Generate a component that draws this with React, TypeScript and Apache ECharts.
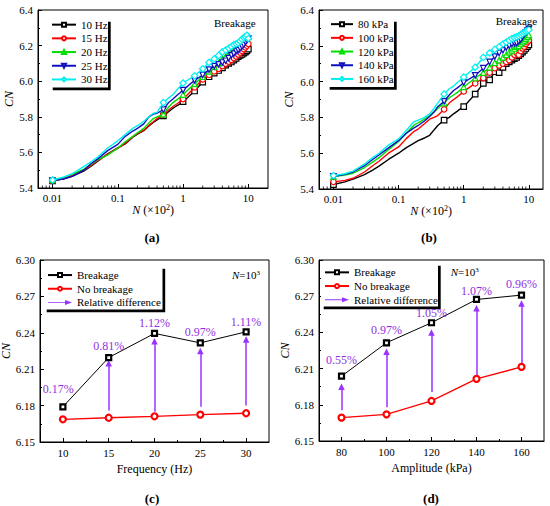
import React, { useEffect, useRef } from "react";
import * as echarts from "echarts";

// ---------- data ----------
const N_CYCLES = [0.01, 0.015, 0.02, 0.03, 0.04, 0.05, 0.07, 0.1, 0.13, 0.17, 0.2, 0.25, 0.3, 0.35, 0.4, 0.5, 0.6, 0.7, 0.8, 0.9, 1, 1.5, 2, 2.5, 3, 3.5, 4, 4.5, 5, 5.5, 6, 6.5, 7, 7.5, 8, 8.5, 9, 9.5, 10];
const MARKED_N = [0.01, 0.5, 1, 1.5, 2, 2.5, 3, 3.5, 4, 4.5, 5, 5.5, 6, 6.5, 7, 7.5, 8, 8.5, 9, 9.5, 10];
const LOG_MINOR_TICKS = [0.007, 0.008, 0.009, 0.02, 0.03, 0.04, 0.05, 0.06, 0.07, 0.08, 0.09, 0.2, 0.3, 0.4, 0.5, 0.6, 0.7, 0.8, 0.9, 2, 3, 4, 5, 6, 7, 8, 9];
const LOG_MAJOR_LABELS = [0.01, 0.1, 1, 10];
const CN_AXIS_MIN = 5.4;

const FREQ_NAMES = ["10 Hz", "15 Hz", "20 Hz", "25 Hz", "30 Hz"];
const CN_10HZ = [5.44, 5.452, 5.465, 5.495, 5.525, 5.552, 5.592, 5.625, 5.648, 5.685, 5.702, 5.722, 5.748, 5.768, 5.782, 5.805, 5.828, 5.848, 5.862, 5.872, 5.885, 5.945, 5.995, 6.025, 6.045, 6.06, 6.075, 6.09, 6.1, 6.108, 6.118, 6.128, 6.138, 6.145, 6.15, 6.158, 6.163, 6.17, 6.18];
const CN_15HZ = [5.44, 5.455, 5.47, 5.5, 5.53, 5.555, 5.59, 5.622, 5.652, 5.688, 5.705, 5.725, 5.752, 5.772, 5.79, 5.812, 5.838, 5.858, 5.872, 5.885, 5.9, 5.965, 6.01, 6.035, 6.055, 6.07, 6.085, 6.098, 6.11, 6.12, 6.13, 6.14, 6.15, 6.16, 6.17, 6.18, 6.19, 6.2, 6.21];
const CN_20HZ = [5.445, 5.46, 5.478, 5.505, 5.535, 5.56, 5.585, 5.625, 5.66, 5.69, 5.71, 5.735, 5.765, 5.79, 5.8, 5.815, 5.855, 5.88, 5.895, 5.91, 5.925, 5.985, 6.025, 6.055, 6.08, 6.1, 6.125, 6.14, 6.155, 6.165, 6.178, 6.19, 6.2, 6.21, 6.22, 6.23, 6.24, 6.245, 6.25];
const CN_25HZ = [5.44, 5.452, 5.465, 5.5, 5.54, 5.565, 5.61, 5.645, 5.69, 5.72, 5.735, 5.76, 5.8, 5.815, 5.82, 5.84, 5.88, 5.9, 5.92, 5.935, 5.95, 6.005, 6.035, 6.065, 6.085, 6.095, 6.105, 6.115, 6.13, 6.145, 6.155, 6.17, 6.175, 6.185, 6.195, 6.205, 6.22, 6.23, 6.24];
const CN_30HZ = [5.445, 5.462, 5.48, 5.52, 5.55, 5.575, 5.625, 5.665, 5.7, 5.735, 5.75, 5.775, 5.8, 5.82, 5.825, 5.88, 5.905, 5.925, 5.95, 5.97, 5.99, 6.03, 6.07, 6.105, 6.125, 6.145, 6.165, 6.175, 6.185, 6.195, 6.205, 6.21, 6.215, 6.225, 6.235, 6.245, 6.25, 6.258, 6.24];

const AMP_NAMES = ["80 kPa", "100 kPa", "120 kPa", "140 kPa", "160 kPa"];
const CN_80KPA = [5.425, 5.44, 5.455, 5.48, 5.505, 5.528, 5.565, 5.6, 5.63, 5.655, 5.67, 5.685, 5.7, 5.73, 5.755, 5.785, 5.8, 5.82, 5.835, 5.85, 5.86, 5.93, 5.99, 6.01, 6.055, 6.05, 6.08, 6.1, 6.11, 6.12, 6.128, 6.135, 6.145, 6.155, 6.165, 6.175, 6.185, 6.195, 6.205];
const CN_100KPA = [5.44, 5.448, 5.46, 5.495, 5.53, 5.555, 5.6, 5.635, 5.68, 5.72, 5.735, 5.765, 5.79, 5.8, 5.81, 5.845, 5.88, 5.9, 5.915, 5.93, 5.945, 5.99, 6.02, 6.05, 6.075, 6.09, 6.1, 6.11, 6.12, 6.135, 6.15, 6.16, 6.15, 6.17, 6.185, 6.195, 6.21, 6.22, 6.23];
const CN_120KPA = [5.47, 5.478, 5.488, 5.52, 5.55, 5.575, 5.62, 5.665, 5.71, 5.755, 5.77, 5.79, 5.81, 5.83, 5.85, 5.88, 5.91, 5.925, 5.94, 5.955, 5.97, 6.02, 6.05, 6.08, 6.105, 6.12, 6.135, 6.15, 6.165, 6.175, 6.185, 6.195, 6.2, 6.21, 6.22, 6.23, 6.24, 6.25, 6.26];
const CN_140KPA = [5.47, 5.482, 5.495, 5.53, 5.565, 5.59, 5.63, 5.67, 5.71, 5.74, 5.755, 5.78, 5.805, 5.83, 5.86, 5.89, 5.925, 5.95, 5.965, 5.98, 5.995, 6.035, 6.075, 6.11, 6.14, 6.16, 6.175, 6.19, 6.2, 6.21, 6.215, 6.215, 6.225, 6.235, 6.25, 6.265, 6.275, 6.285, 6.295];
const CN_160KPA = [5.475, 5.485, 5.5, 5.54, 5.575, 5.6, 5.645, 5.68, 5.725, 5.775, 5.785, 5.8, 5.82, 5.85, 5.88, 5.93, 5.96, 5.975, 5.995, 6.01, 6.025, 6.08, 6.135, 6.16, 6.18, 6.195, 6.21, 6.22, 6.23, 6.24, 6.245, 6.25, 6.255, 6.262, 6.268, 6.275, 6.28, 6.285, 6.29];

const FREQ = [10, 15, 20, 25, 30];
const FREQ_BREAKAGE = [6.179, 6.2196, 6.2395, 6.2317, 6.2408];
const FREQ_NO_BREAKAGE = [6.1687, 6.170, 6.1712, 6.1726, 6.1737];
const FREQ_MINOR_TICKS = [12.5, 17.5, 22.5, 27.5];
const FREQ_ARROW_X = [15, 20, 25, 30];
const FREQ_ARROW_FROM = [6.176, 6.175, 6.179, 6.18];
const FREQ_ARROW_TO = [6.215, 6.233, 6.225, 6.2345];
const FREQ_PCT_TEXT = ["0.17%", "0.81%", "1.12%", "0.97%", "1.11%"];
const FREQ_PCT_X = [9.5, 15, 20, 25, 30];
const FREQ_PCT_Y = [6.194, 6.2293, 6.2477, 6.2408, 6.249];

const AMP = [80, 100, 120, 140, 160];
const AMP_BREAKAGE = [6.2037, 6.2314, 6.248, 6.2673, 6.2709];
const AMP_NO_BREAKAGE = [6.1694, 6.1721, 6.1832, 6.2015, 6.2114];
const AMP_MINOR_TICKS = [90, 110, 130, 150];
const AMP_ARROW_X = [80, 100, 120, 140, 160];
const AMP_ARROW_FROM = [6.1755, 6.178, 6.1907, 6.2004, 6.21];
const AMP_ARROW_TO = [6.195, 6.224, 6.24, 6.26, 6.264];
const AMP_PCT_TEXT = ["0.55%", "0.97%", "1.05%", "1.07%", "0.96%"];
const AMP_PCT_X = [80, 100, 120, 140, 160];
const AMP_PCT_Y = [6.217, 6.2424, 6.2557, 6.2745, 6.28];

// ---------- styles ----------
const FONT = "'Liberation Serif', 'Times New Roman', Times, serif";
const COLORS = ["#000000", "#ff0000", "#00e000", "#1010c0", "#00f0f0"];
const SYMBOLS = ["rect", "circle", "triangle", "triangle", "diamond"];
const ROTATES = [0, 0, 0, 180, 0];
const PURPLE = "#9933ff";
const PCT_COLOR = "#9030e0";
const ARROW_ICON = "path://M0,2.1L17,2.1L17,0L24,2.5L17,5L17,2.9L0,2.9Z";

function curveSeries(name: string, ys: number[], idx: number, axis: number) {
  const color = COLORS[idx];
  return {
    type: "line",
    name,
    xAxisIndex: axis,
    yAxisIndex: axis,
    data: N_CYCLES.map((n, i) =>
      MARKED_N.indexOf(n) >= 0 ? { value: [n, ys[i]] } : { value: [n, ys[i]], symbol: "none" }
    ),
    symbol: SYMBOLS[idx],
    symbolRotate: ROTATES[idx],
    symbolSize: idx === 4 ? 6.5 : 5.5,
    showSymbol: true,
    lineStyle: { color, width: 1.4 },
    itemStyle: { color: "#ffffff", borderColor: color, borderWidth: 1.2 },
    emphasis: { disabled: true },
    z: 2 + idx,
  };
}

function minorTickSeries(axis: number) {
  return {
    type: "scatter",
    name: "minor" + axis,
    xAxisIndex: axis,
    yAxisIndex: axis,
    data: LOG_MINOR_TICKS.map((v) => [v, CN_AXIS_MIN]),
    symbol: "rect",
    symbolSize: [1, 2.5],
    symbolOffset: [0, -1.25],
    itemStyle: { color: "#000" },
    silent: true,
    clip: false,
    emphasis: { disabled: true },
    z: 20,
  };
}

function logXAxis(grid: number, max: number) {
  return {
    type: "log",
    gridIndex: grid,
    position: "bottom",
    min: 0.006,
    max,
    name: "{i|N}{t| (×10}{s|2}{t|)}",
    nameLocation: "middle",
    nameGap: 14,
    nameTextStyle: {
      fontFamily: FONT,
      fontSize: 12,
      color: "#000",
      rich: {
        i: { fontFamily: FONT, fontSize: 12, fontStyle: "italic", color: "#000" },
        t: { fontFamily: FONT, fontSize: 12, color: "#000" },
        s: { fontFamily: FONT, fontSize: 8, color: "#000", verticalAlign: "top" },
      },
    },
    axisLine: { show: true, lineStyle: { color: "#000", width: 1 } },
    axisTick: { show: true, inside: true, length: 4, lineStyle: { color: "#000" } },
    axisLabel: {
      show: true,
      margin: 4,
      fontFamily: FONT,
      fontSize: 11,
      color: "#000",
      showMinLabel: false,
      showMaxLabel: false,
      formatter: (v: number) => {
        const r = +v.toPrecision(4);
        return LOG_MAJOR_LABELS.indexOf(r) >= 0 ? String(r) : "";
      },
    },
    splitLine: { show: false },
  };
}

function valueXAxis(grid: number, min: number, max: number, values: number[] | null, name: string, minorValues: number[] | null) {
  if (minorValues) {
    return {
      type: "value",
      gridIndex: grid,
      position: "bottom",
      min,
      max,
      axisLine: { show: false },
      axisLabel: { show: false },
      splitLine: { show: false },
      axisTick: { show: true, inside: true, length: 2, customValues: minorValues, lineStyle: { color: "#000" } },
    };
  }
  return {
    type: "value",
    gridIndex: grid,
    position: "bottom",
    min,
    max,
    name,
    nameLocation: "middle",
    nameGap: 21,
    nameTextStyle: { fontFamily: FONT, fontSize: 12, color: "#000" },
    axisLine: { show: true, lineStyle: { color: "#000", width: 1 } },
    axisTick: { show: true, inside: true, length: 4, customValues: values, lineStyle: { color: "#000" } },
    axisLabel: { show: true, margin: 5, fontFamily: FONT, fontSize: 11, color: "#000", customValues: values },
    splitLine: { show: false },
  };
}

function yAxis(grid: number, min: number, max: number, interval: number, digits: number, nameGap: number) {
  return {
    type: "value",
    gridIndex: grid,
    min,
    max,
    interval,
    name: "CN",
    nameLocation: "middle",
    nameGap,
    nameTextStyle: { fontFamily: FONT, fontSize: 12, fontStyle: "italic", color: "#000" },
    axisLine: { show: true, lineStyle: { color: "#000", width: 1 } },
    axisTick: { show: true, inside: true, length: 4, lineStyle: { color: "#000" } },
    minorTick: { show: true, splitNumber: 2, length: 2, lineStyle: { color: "#000" } },
    axisLabel: {
      show: true,
      margin: 5,
      fontFamily: FONT,
      fontSize: 11,
      color: "#000",
      formatter: (v: number) => v.toFixed(digits),
    },
    splitLine: { show: false },
    minorSplitLine: { show: false },
  };
}

function legendCfg(names: any[], left: number, top: number, itemWidth: number) {
  return {
    data: names,
    orient: "vertical",
    left,
    top,
    padding: 0,
    itemGap: 0,
    itemWidth,
    itemHeight: 5,
    selectedMode: false,
    textStyle: { fontFamily: FONT, fontSize: 11, color: "#000", lineHeight: 13.7 },
    z: 10,
  };
}

function legendBox(x: number, y: number, w: number, h: number) {
  return [
    { type: "rect", shape: { x: x + 2.7, y: y + 2.7, width: w, height: h }, style: { fill: "#000" }, z: 5, silent: true },
    { type: "rect", shape: { x, y, width: w, height: h }, style: { fill: "#fff" }, z: 6, silent: true },
  ];
}

function text(x: number, y: number, t: string, opts: any = {}) {
  return {
    type: "text",
    x,
    y,
    z: 12,
    silent: true,
    style: {
      text: t,
      fontFamily: FONT,
      fontSize: opts.fontSize || 11,
      fontWeight: opts.fontWeight || "normal",
      fill: "#000",
      align: opts.align || "left",
      verticalAlign: "middle",
      textAlign: opts.align || "left",
      textVerticalAlign: "middle",
      rich: opts.rich,
    },
  };
}

const N_RICH = {
  i: { fontFamily: FONT, fontSize: 11, fontStyle: "italic", fill: "#000", color: "#000" },
  t: { fontFamily: FONT, fontSize: 11, fill: "#000", color: "#000" },
  s: { fontFamily: FONT, fontSize: 7, fill: "#000", color: "#000", verticalAlign: "top" },
};

function arrowSeries(xs: number[], from: number[], to: number[], axis: number) {
  return {
    type: "lines",
    name: "Relative difference",
    coordinateSystem: "cartesian2d",
    xAxisIndex: axis,
    yAxisIndex: axis,
    color: PURPLE,
    symbol: ["none", "triangle"],
    symbolSize: 6.5,
    lineStyle: { color: PURPLE, width: 1.5, opacity: 1, curveness: 0 },
    emphasis: { disabled: true },
    silent: true,
    data: xs.map((x, i) => ({ coords: [[x, from[i]], [x, to[i]]] })),
    z: 3,
  };
}

function pctSeries(xs: number[], ys: number[], texts: string[], axis: number) {
  return {
    type: "scatter",
    name: "pct" + axis,
    xAxisIndex: axis,
    yAxisIndex: axis,
    symbol: "circle",
    symbolSize: 2,
    itemStyle: { color: "rgba(255,255,255,0)" },
    silent: true,
    data: xs.map((x, i) => ({ value: [x, ys[i]], label: { formatter: texts[i] } })),
    label: {
      show: true,
      position: "inside",
      color: PCT_COLOR,
      opacity: 1,
      textBorderWidth: 0,
      textBorderColor: "transparent",
      fontFamily: FONT,
      fontSize: 12,
    },
    labelLayout: { hideOverlap: false },
    emphasis: { disabled: true },
    z: 6,
  };
}

function breakageSeries(xs: number[], ys: number[], axis: number) {
  return {
    type: "line",
    name: "Breakage",
    xAxisIndex: axis,
    yAxisIndex: axis,
    data: xs.map((x, i) => [x, ys[i]]),
    symbol: "rect",
    symbolSize: 5,
    lineStyle: { color: "#000", width: 1 },
    itemStyle: { color: "#fff", borderColor: "#000", borderWidth: 2.2 },
    emphasis: { disabled: true },
    z: 4,
  };
}

function noBreakageSeries(xs: number[], ys: number[], axis: number) {
  return {
    type: "line",
    name: "No breakage",
    xAxisIndex: axis,
    yAxisIndex: axis,
    data: xs.map((x, i) => [x, ys[i]]),
    symbol: "circle",
    symbolSize: 6,
    lineStyle: { color: "#ff0000", width: 1.3 },
    itemStyle: { color: "#fff", borderColor: "#ff0000", borderWidth: 2.2 },
    emphasis: { disabled: true },
    z: 4,
  };
}

function buildOption() {
  const gridBase = { show: true, borderColor: "#000", borderWidth: 1, backgroundColor: "transparent", containLabel: false, outerBoundsMode: "none" };
  const legendCD = [
    { name: "Breakage" },
    { name: "No breakage" },
    { name: "Relative difference", icon: ARROW_ICON, itemStyle: { color: PURPLE, borderWidth: 0 } },
  ];
  return {
    animation: false,
    backgroundColor: "#fff",
    textStyle: { fontFamily: FONT },
    grid: [
      { ...gridBase, left: 38, top: 10, width: 230, height: 178 },
      { ...gridBase, left: 319, top: 10, width: 224, height: 179 },
      { ...gridBase, left: 40, top: 260, width: 229, height: 182 },
      { ...gridBase, left: 319, top: 260, width: 225, height: 181 },
    ],
    xAxis: [
      logXAxis(0, 20),
      logXAxis(1, 16.5),
      valueXAxis(2, 7.5, 32.5, FREQ, "Frequency (Hz)", null),
      valueXAxis(3, 70, 170, AMP, "Amplitude (kPa)", null),
      valueXAxis(2, 7.5, 32.5, null, "", FREQ_MINOR_TICKS),
      valueXAxis(3, 70, 170, null, "", AMP_MINOR_TICKS),
    ],
    yAxis: [
      yAxis(0, 5.4, 6.4, 0.2, 1, 19),
      yAxis(1, 5.4, 6.4, 0.2, 1, 24),
      yAxis(2, 6.15, 6.3, 0.03, 2, 20),
      yAxis(3, 6.15, 6.3, 0.03, 2, 24),
    ],
    legend: [
      legendCfg(FREQ_NAMES, 51, 17.8, 24),
      legendCfg(AMP_NAMES, 330, 17.3, 22),
      legendCfg(legendCD, 47, 268.2, 24),
      legendCfg(legendCD, 324, 265.5, 24),
    ],
    graphic: [
      ...legendBox(50, 19, 58, 68.5),
      ...legendBox(327, 19, 67, 68),
      ...legendBox(44, 266, 118.5, 43.5),
      ...legendBox(321, 263, 117, 43.5),
      text(214, 22.7, "Breakage"),
      text(495.7, 20.7, "Breakage"),
      text(232, 275, "{i|N}{t|=10}{s|3}", { rich: N_RICH }),
      text(450.7, 272, "{i|N}{t|=10}{s|3}", { rich: N_RICH }),
      text(152, 237, "(a)", { fontSize: 13, fontWeight: "bold", align: "center" }),
      text(429, 237, "(b)", { fontSize: 13, fontWeight: "bold", align: "center" }),
      text(152, 498, "(c)", { fontSize: 13, fontWeight: "bold", align: "center" }),
      text(431, 498, "(d)", { fontSize: 13, fontWeight: "bold", align: "center" }),
    ],
    series: [
      curveSeries(FREQ_NAMES[0], CN_10HZ, 0, 0),
      curveSeries(FREQ_NAMES[1], CN_15HZ, 1, 0),
      curveSeries(FREQ_NAMES[2], CN_20HZ, 2, 0),
      curveSeries(FREQ_NAMES[3], CN_25HZ, 3, 0),
      curveSeries(FREQ_NAMES[4], CN_30HZ, 4, 0),
      curveSeries(AMP_NAMES[0], CN_80KPA, 0, 1),
      curveSeries(AMP_NAMES[1], CN_100KPA, 1, 1),
      curveSeries(AMP_NAMES[2], CN_120KPA, 2, 1),
      curveSeries(AMP_NAMES[3], CN_140KPA, 3, 1),
      curveSeries(AMP_NAMES[4], CN_160KPA, 4, 1),
      minorTickSeries(0),
      minorTickSeries(1),
      breakageSeries(FREQ, FREQ_BREAKAGE, 2),
      noBreakageSeries(FREQ, FREQ_NO_BREAKAGE, 2),
      arrowSeries(FREQ_ARROW_X, FREQ_ARROW_FROM, FREQ_ARROW_TO, 2),
      pctSeries(FREQ_PCT_X, FREQ_PCT_Y, FREQ_PCT_TEXT, 2),
      breakageSeries(AMP, AMP_BREAKAGE, 3),
      noBreakageSeries(AMP, AMP_NO_BREAKAGE, 3),
      arrowSeries(AMP_ARROW_X, AMP_ARROW_FROM, AMP_ARROW_TO, 3),
      pctSeries(AMP_PCT_X, AMP_PCT_Y, AMP_PCT_TEXT, 3),
    ],
  };
}

export default function App() {
  const ref = useRef<HTMLDivElement>(null);
  useEffect(() => {
    document.body.style.margin = "0";
    const chart = echarts.init(ref.current as HTMLDivElement, null, { renderer: "svg" });
    chart.setOption(buildOption() as any);
    return () => chart.dispose();
  }, []);
  return <div ref={ref} style={{ width: 550, height: 506 }} />;
}
